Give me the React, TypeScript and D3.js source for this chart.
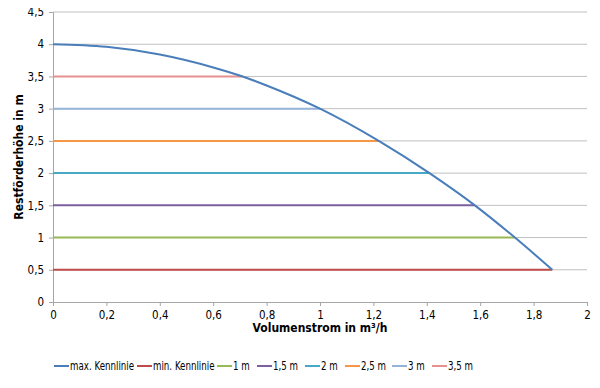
import React, { useEffect, useRef } from 'react';
import * as d3 from 'd3';

// max. Kennlinie (Volumenstrom, Restförderhöhe)
const maxCurveX = [0, 0.2, 0.4, 0.6, 0.71, 0.8, 1.0, 1.22, 1.41, 1.58, 1.73, 1.87];
const maxCurveY = [4, 3.96, 3.84, 3.64, 3.5, 3.36, 3.0, 2.5, 2.0, 1.5, 1.0, 0.5];

// horizontal lines: name, level, end of line
const levelNames = ['min. Kennlinie', '1 m', '1,5 m', '2 m', '2,5 m', '3 m', '3,5 m'];
const levelValues = [0.5, 1, 1.5, 2, 2.5, 3, 3.5];
const levelEnds = [1.87, 1.73, 1.58, 1.41, 1.22, 1.0, 0.71];
const levelColors = ['#be4b48', '#98b954', '#7d60a0', '#46aac5', '#f79646', '#95b3d7', '#e6908f'];

const legendNames = ['max. Kennlinie', ...levelNames];
const legendColors = ['#4a7ebb', ...levelColors];

const xTicks = [0, 0.2, 0.4, 0.6, 0.8, 1, 1.2, 1.4, 1.6, 1.8, 2];
const yTicks = [0, 0.5, 1, 1.5, 2, 2.5, 3, 3.5, 4, 4.5];

const fmt = (v: number) => String(v).replace('.', ',');
const FONT = '"DejaVu Sans Condensed", "DejaVu Sans", sans-serif';

const App: React.FC = () => {
  const svgRef = useRef<SVGSVGElement>(null);

  useEffect(() => {
    if (!svgRef.current) return;
    const width = 600;
    const height = 388;
    const margin = { top: 12, right: 13, bottom: 86, left: 53 };

    const svg = d3.select(svgRef.current);
    svg.selectAll('*').remove();

    // outer frame
    svg.append('rect')
      .attr('x', 0.5).attr('y', 0.5).attr('width', width - 1).attr('height', height - 1)
      .attr('fill', '#fff').attr('stroke', '#d0d0d0');

    const x = d3.scaleLinear().domain([0, 2]).range([margin.left, width - margin.right]);
    const y = d3.scaleLinear().domain([0, 4.5]).range([height - margin.bottom, margin.top]);

    // gridlines
    svg.append('g').selectAll('line').data(yTicks.filter(d => d > 0)).join('line')
      .attr('x1', x(0)).attr('x2', x(2))
      .attr('y1', d => y(d)).attr('y2', d => y(d))
      .attr('stroke', '#c0c0c0').attr('stroke-width', 1);

    // axes
    const xAxis = svg.append('g')
      .attr('transform', `translate(0,${y(0)})`)
      .call(d3.axisBottom(x).tickValues(xTicks).tickFormat(d => fmt(d as number)).tickSize(4).tickPadding(5));
    const yAxis = svg.append('g')
      .attr('transform', `translate(${x(0)},0)`)
      .call(d3.axisLeft(y).tickValues(yTicks).tickFormat(d => fmt(d as number)).tickSize(4).tickPadding(5));
    [xAxis, yAxis].forEach(a => {
      a.select('.domain').attr('stroke', '#a6a6a6');
      a.selectAll('.tick line').attr('stroke', '#a6a6a6');
      a.selectAll('.tick text').attr('fill', '#000').attr('font-size', 11.5)
        .attr('font-family', FONT).attr('font-stretch', 'condensed');
    });

    // level lines
    svg.append('g').selectAll('line').data(levelValues).join('line')
      .attr('x1', x(0)).attr('x2', (_, i) => x(levelEnds[i]))
      .attr('y1', d => y(d)).attr('y2', d => y(d))
      .attr('stroke', (_, i) => levelColors[i]).attr('stroke-width', 2);

    // max curve
    const pts = maxCurveX.map((v, i) => [v, maxCurveY[i]] as [number, number]);
    const line = d3.line<[number, number]>().x(d => x(d[0])).y(d => y(d[1])).curve(d3.curveMonotoneX);
    svg.append('path').datum(pts)
      .attr('fill', 'none').attr('stroke', '#4a7ebb').attr('stroke-width', 2).attr('d', line);

    // axis titles
    svg.append('text')
      .attr('x', (x(0) + x(2)) / 2).attr('y', 332)
      .attr('text-anchor', 'middle').attr('font-family', FONT).attr('font-stretch', 'condensed')
      .attr('font-weight', 'bold').attr('font-size', 12)
      .text('Volumenstrom in m³/h');
    svg.append('text')
      .attr('transform', `translate(23,${y(2.25)}) rotate(-90)`)
      .attr('text-anchor', 'middle').attr('font-family', FONT).attr('font-stretch', 'condensed')
      .attr('font-weight', 'bold').attr('font-size', 12)
      .text('Restförderhöhe in m');

    // legend
    const legendX = [54, 137, 217, 257, 305, 345, 392, 432];
    const lg = svg.append('g').attr('transform', 'translate(0,366)');
    legendNames.forEach((name, i) => {
      lg.append('line')
        .attr('x1', legendX[i]).attr('x2', legendX[i] + 15).attr('y1', 0).attr('y2', 0)
        .attr('stroke', legendColors[i]).attr('stroke-width', 2);
      lg.append('text')
        .attr('transform', `translate(${legendX[i] + 16},4) scale(0.84,1)`)
        .attr('font-family', FONT).attr('font-stretch', 'condensed').attr('font-size', 11.5).attr('fill', '#000')
        .text(name);
    });
  }, []);

  return <svg ref={svgRef} width={600} height={388} style={{ display: 'block', margin: -8 }} />;
};

export default App;
